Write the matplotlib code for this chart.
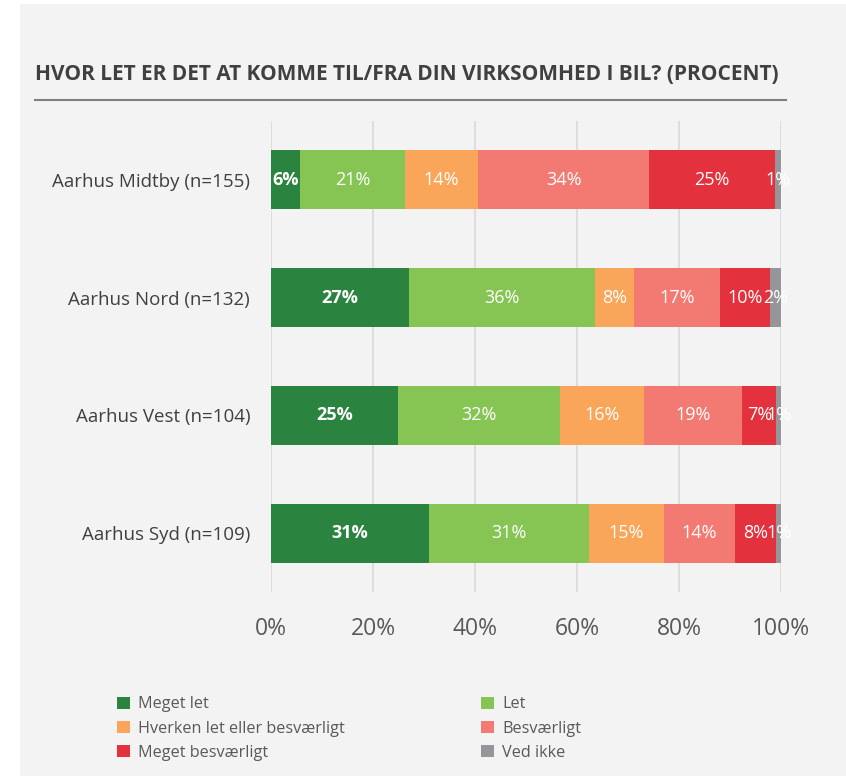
import matplotlib
matplotlib.use("Agg")
import matplotlib.pyplot as plt
from matplotlib.patches import Rectangle, Patch
from matplotlib.lines import Line2D

categories = ["Aarhus Midtby (n=155)", "Aarhus Nord (n=132)", "Aarhus Vest (n=104)", "Aarhus Syd (n=109)"]
series_names = ["Meget let", "Let", "Hverken let eller besværligt", "Besværligt", "Meget besværligt", "Ved ikke"]
meget_let = [5.6, 27.1, 24.9, 31.0]
let_ = [20.7, 36.5, 31.8, 31.3]
hverken = [14.3, 7.6, 16.4, 14.8]
besvaerligt = [33.6, 16.8, 19.3, 13.8]
meget_besvaerligt = [24.6, 9.8, 6.7, 8.2]
ved_ikke = [1.2, 2.2, 0.9, 0.9]
series = [meget_let, let_, hverken, besvaerligt, meget_besvaerligt, ved_ikke]
colors = ["#2A843F", "#86C454", "#F9A65A", "#F37A72", "#E3323D", "#96969A"]
xticks = [0, 20, 40, 60, 80, 100]
xticklabels = ["0%", "20%", "40%", "60%", "80%", "100%"]
title = "HVOR LET ER DET AT KOMME TIL/FRA DIN VIRKSOMHED I BIL? (PROCENT)"

plt.rcParams['font.family'] = ['Open Sans', 'DejaVu Sans']
W, H = 846, 776
fig = plt.figure(figsize=(W / 100, H / 100), dpi=100)
fig.patch.set_facecolor("white")
fig.patches.append(Rectangle((20 / W, 0), 1 - 20 / W, 1 - 4 / H, transform=fig.transFigure,
                             facecolor="#F3F3F3", edgecolor="none", zorder=-10))

ax = fig.add_axes([271 / W, 1 - 592 / H, 510 / W, 471 / H])
ax.set_facecolor("none")
ypos = list(range(len(categories)))
left = [0.0] * len(categories)
handles = []
for i, (vals, col, name) in enumerate(zip(series, colors, series_names)):
    ax.barh(ypos, vals, left=left, height=0.5, color=col, edgecolor="none", zorder=2)
    for j, (v, l) in enumerate(zip(vals, left)):
        ax.text(l + v / 2, j, f"{round(v)}%", ha="center", va="center", color="white",
                fontsize=13, fontweight="bold" if i == 0 else "normal", zorder=3)
    left = [a + b for a, b in zip(left, vals)]
    handles.append(Patch(facecolor=col, edgecolor="none", label=name))

ax.set_xlim(0, 100)
ax.set_ylim(len(categories) - 0.5, -0.5)
ax.set_xticks(xticks)
ax.set_xticklabels(xticklabels, fontsize=16.5, color="#595959")
ax.set_yticks(ypos)
ax.set_yticklabels(categories, fontsize=13.5, color="#404040")
ax.tick_params(axis="both", length=0)
ax.tick_params(axis="x", pad=18)
ax.tick_params(axis="y", pad=15)
ax.grid(axis="x", color="#D9D9D9", linewidth=1.2, zorder=0)
for s in ax.spines.values():
    s.set_visible(False)

fig.text(35 / W, 1 - 74 / H, title, fontsize=15, fontweight="bold", color="#404040",
         ha="left", va="center")
fig.add_artist(Line2D([35 / W, 786 / W], [1 - 100 / H, 1 - 100 / H], transform=fig.transFigure,
                      color="#7F7F7F", linewidth=1.5))

order = [0, 2, 4, 1, 3, 5]
leg = fig.legend([handles[k] for k in order], [series_names[k] for k in order], ncol=2,
                 loc="upper left", bbox_to_anchor=(110 / W, 1 - 690 / H), frameon=False,
                 fontsize=11.7, handlelength=0.8, handleheight=0.8, handletextpad=0.5,
                 columnspacing=8.4, labelspacing=0.5, borderaxespad=0)
for t in leg.get_texts():
    t.set_color("#595959")

fig.savefig("out.png", dpi=100, facecolor=fig.get_facecolor())
